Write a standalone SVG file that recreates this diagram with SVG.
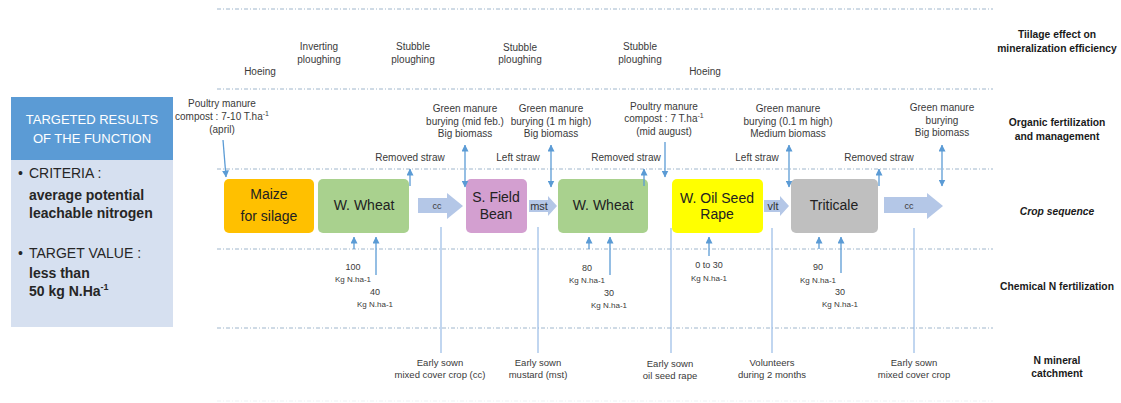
<svg xmlns="http://www.w3.org/2000/svg" width="1121" height="403" viewBox="0 0 1121 403">
<style>
text{font-family:"Liberation Sans",Arial,sans-serif;fill:#3a3a3a}
.sm{font-size:10px;text-anchor:middle}
.ct{font-size:9.5px;text-anchor:middle}
.num{font-size:9px;text-anchor:middle}
.kg{font-size:8px;text-anchor:middle}
.rl{font-size:10.3px;font-weight:bold;text-anchor:middle;fill:#1a1a1a}
.box{font-size:14px;text-anchor:middle;fill:#222}
.arr{font-size:11px;text-anchor:middle;fill:#333}
.band{stroke:#9fb6cc;stroke-width:1;stroke-dasharray:4 2 1 2;fill:none}
.ar{stroke:#5b9bd5;stroke-width:1.3;fill:none;marker-end:url(#ah)}
.dbl{stroke:#5b9bd5;stroke-width:1.3;fill:none;marker-end:url(#ah);marker-start:url(#ah)}
.cl{stroke:#8eb4e3;stroke-width:1.1;fill:none}
.blk{fill:#b4c7e7}
.pt{font-size:14px;fill:#262626}
.pb{font-size:14px;font-weight:bold;fill:#262626}
.hd{font-size:13px;text-anchor:middle;fill:#fff}
</style>
<defs>
<marker id="ah" markerWidth="7" markerHeight="7" refX="6.5" refY="3.5" orient="auto-start-reverse" markerUnits="userSpaceOnUse">
<path d="M0,0 L7,3.5 L0,7 z" fill="#5b9bd5"/>
</marker>
</defs>
<rect width="1121" height="403" fill="#fff"/>

<g id="bands">
<line class="band" x1="217" y1="9" x2="993" y2="9"/>
<line class="band" x1="217" y1="89" x2="993" y2="89"/>
<line class="band" x1="217" y1="169" x2="993" y2="169"/>
<line class="band" x1="217" y1="249" x2="993" y2="249"/>
<line class="band" x1="217" y1="328" x2="993" y2="328"/>
<line class="band" x1="217" y1="401" x2="993" y2="401" opacity="0.2"/>
</g>

<g id="panel">
<rect x="11" y="97" width="162" height="63" fill="#5b9bd5"/>
<rect x="11" y="160" width="162" height="167" fill="#d6e0f0"/>
<text class="hd" x="92" y="124" style="fill:#fff">TARGETED RESULTS</text>
<text class="hd" x="92" y="143" style="fill:#fff">OF THE FUNCTION</text>
<text class="pt" x="18" y="178">•</text>
<text class="pt" x="29" y="178">CRITERIA :</text>
<text class="pb" x="29" y="200">average potential</text>
<text class="pb" x="29" y="218">leachable nitrogen</text>
<text class="pt" x="18" y="258">•</text>
<text class="pt" x="29" y="258">TARGET VALUE :</text>
<text class="pb" x="29" y="278">less than</text>
<text class="pb" x="29" y="296">50 kg N.Ha<tspan font-size="9" dy="-6">-1</tspan></text>
</g>

<g id="row-labels">
<text class="rl" x="1057" y="38">Tiilage effect on</text>
<text class="rl" x="1057" y="51.5">mineralization efficiency</text>
<text class="rl" x="1057" y="125.5">Organic fertilization</text>
<text class="rl" x="1057" y="139.5">and management</text>
<text class="rl" x="1057" y="214.5" font-style="italic">Crop sequence</text>
<text class="rl" x="1057" y="289.5">Chemical N  fertilization</text>
<text class="rl" x="1057" y="363.5">N mineral</text>
<text class="rl" x="1057" y="377">catchment</text>
</g>

<g id="tillage">
<text class="sm" x="260" y="74.5">Hoeing</text>
<text class="sm" x="319" y="49.5">Inverting</text>
<text class="sm" x="319" y="62.5">ploughing</text>
<text class="sm" x="413" y="50">Stubble</text>
<text class="sm" x="413" y="62.5">ploughing</text>
<text class="sm" x="520" y="50.5">Stubble</text>
<text class="sm" x="520" y="63">ploughing</text>
<text class="sm" x="640" y="50">Stubble</text>
<text class="sm" x="640" y="62.5">ploughing</text>
<text class="sm" x="705" y="74.5">Hoeing</text>
</g>

<g id="organic">
<text class="sm" x="222" y="106.5">Poultry manure</text>
<text class="sm" x="222" y="119.5">compost : 7-10 T.ha<tspan font-size="7" dy="-4">-1</tspan></text>
<text class="sm" x="222" y="132.5">(april)</text>
<text class="sm" x="410" y="161">Removed straw</text>
<text class="sm" x="465" y="111.5">Green manure</text>
<text class="sm" x="465" y="124.5">burying (mid feb.)</text>
<text class="sm" x="465" y="136.5">Big biomass</text>
<text class="sm" x="518" y="161">Left straw</text>
<text class="sm" x="551" y="111.5">Green manure</text>
<text class="sm" x="551" y="124.5">burying (1 m high)</text>
<text class="sm" x="551" y="137">Big biomass</text>
<text class="sm" x="626" y="161">Removed straw</text>
<text class="sm" x="664" y="109.5">Poultry manure</text>
<text class="sm" x="664" y="121.5">compost : 7 T.ha<tspan font-size="7" dy="-4">-1</tspan></text>
<text class="sm" x="664" y="134.5">(mid august)</text>
<text class="sm" x="788" y="111.5">Green manure</text>
<text class="sm" x="788" y="124.5">burying (0.1 m high)</text>
<text class="sm" x="788" y="137">Medium biomass</text>
<text class="sm" x="757" y="161">Left straw</text>
<text class="sm" x="879" y="161">Removed straw</text>
<text class="sm" x="942" y="110.5">Green manure</text>
<text class="sm" x="942" y="123.5">burying</text>
<text class="sm" x="942" y="135.5">Big biomass</text>
</g>

<g id="crop-maize">
<rect x="224" y="179" width="90" height="54" rx="5" fill="#ffc000"/>
<text class="box" x="269" y="199">Maize</text>
<text class="box" x="269" y="221">for silage</text>
</g>
<g id="crop-wwheat1">
<rect x="318" y="179" width="91" height="54" rx="5" fill="#a9d18e"/>
<text class="box" x="364" y="210">W. Wheat</text>
</g>
<g id="crop-sfieldbean">
<rect x="466" y="179" width="61" height="54" rx="5" fill="#d39fd0"/>
<text class="box" x="496" y="202">S. Field</text>
<text class="box" x="496" y="219">Bean</text>
</g>
<g id="crop-wwheat2">
<rect x="558" y="179" width="90" height="54" rx="5" fill="#a9d18e"/>
<text class="box" x="603" y="210">W. Wheat</text>
</g>
<g id="crop-wosr">
<rect x="672" y="179" width="91" height="54" rx="5" fill="#ffff00"/>
<text class="box" x="717" y="203">W. Oil Seed</text>
<text class="box" x="717" y="219">Rape</text>
</g>
<g id="crop-triticale">
<rect x="791" y="179" width="87" height="54" rx="5" fill="#bfbfbf"/>
<text class="box" x="834" y="210">Triticale</text>
</g>

<g id="transitions">
<polygon class="blk" points="418,198 447,198 447,193 463,206 447,219 447,213 418,213"/>
<text x="437" y="209" font-size="9" text-anchor="middle" fill="#333">cc</text>
<polygon class="blk" points="529,200 548,200 548,196 557,206 548,216 548,212 529,212"/>
<text class="arr" x="539" y="210">mst</text>
<polygon class="blk" points="764,200 780,200 780,196 789,206 780,216 780,212 764,212"/>
<text class="arr" x="773" y="210">vlt</text>
<polygon class="blk" points="884,197 927,197 927,193 943,206 927,219 927,213 884,213"/>
<text x="909" y="209" font-size="9" text-anchor="middle" fill="#333">cc</text>
</g>

<g id="connectors">
<line class="ar" x1="223" y1="140" x2="226" y2="177"/>
<line class="ar" x1="410" y1="186" x2="410" y2="169"/>
<line class="dbl" x1="465" y1="145" x2="465" y2="187"/>
<line class="dbl" x1="551" y1="145" x2="551" y2="187"/>
<line class="ar" x1="644" y1="186" x2="644" y2="169"/>
<line class="ar" x1="665" y1="142" x2="665" y2="177"/>
<line class="dbl" x1="789" y1="145" x2="789" y2="187"/>
<line class="ar" x1="879" y1="186" x2="879" y2="169"/>
<line class="dbl" x1="942" y1="145" x2="942" y2="186"/>

<line class="ar" x1="354" y1="249" x2="354" y2="237"/>
<line class="ar" x1="376" y1="275" x2="376" y2="237"/>
<line class="ar" x1="589" y1="249" x2="589" y2="237"/>
<line class="ar" x1="610" y1="275" x2="610" y2="237"/>
<line class="ar" x1="709" y1="256" x2="709" y2="237"/>
<line class="ar" x1="819" y1="249" x2="819" y2="237"/>
<line class="ar" x1="841" y1="273" x2="841" y2="237"/>

<line class="cl" x1="441" y1="227" x2="441" y2="353"/>
<line class="cl" x1="538" y1="227" x2="538" y2="353"/>
<line class="cl" x1="671" y1="228" x2="671" y2="353"/>
<line class="cl" x1="772" y1="228" x2="772" y2="353"/>
<line class="cl" x1="914" y1="228" x2="914" y2="353"/>
</g>

<g id="fertilization">
<text class="num" x="353" y="270">100</text>
<text class="kg" x="353" y="282">Kg N.ha-1</text>
<text class="num" x="375" y="295">40</text>
<text class="kg" x="375" y="307">Kg N.ha-1</text>
<text class="num" x="587" y="271">80</text>
<text class="kg" x="587" y="283">Kg N.ha-1</text>
<text class="num" x="609" y="296">30</text>
<text class="kg" x="609" y="308">Kg N.ha-1</text>
<text class="num" x="709" y="268">0 to 30</text>
<text class="kg" x="709" y="281">Kg N.ha-1</text>
<text class="num" x="818" y="270">90</text>
<text class="kg" x="818" y="283">Kg N.ha-1</text>
<text class="num" x="840" y="295">30</text>
<text class="kg" x="840" y="307">Kg N.ha-1</text>
</g>

<g id="catchment">
<text class="ct" x="440" y="365.5">Early sown</text>
<text class="ct" x="440" y="377.5">mixed cover crop (cc)</text>
<text class="ct" x="538" y="365.5">Early sown</text>
<text class="ct" x="538" y="377.5">mustard (mst)</text>
<text class="ct" x="670" y="366.5">Early sown</text>
<text class="ct" x="670" y="379">oil seed rape</text>
<text class="ct" x="772" y="365.5">Volunteers</text>
<text class="ct" x="772" y="377.5">during 2 months</text>
<text class="ct" x="914" y="365.5">Early sown</text>
<text class="ct" x="914" y="377.5">mixed cover crop</text>
</g>
</svg>
